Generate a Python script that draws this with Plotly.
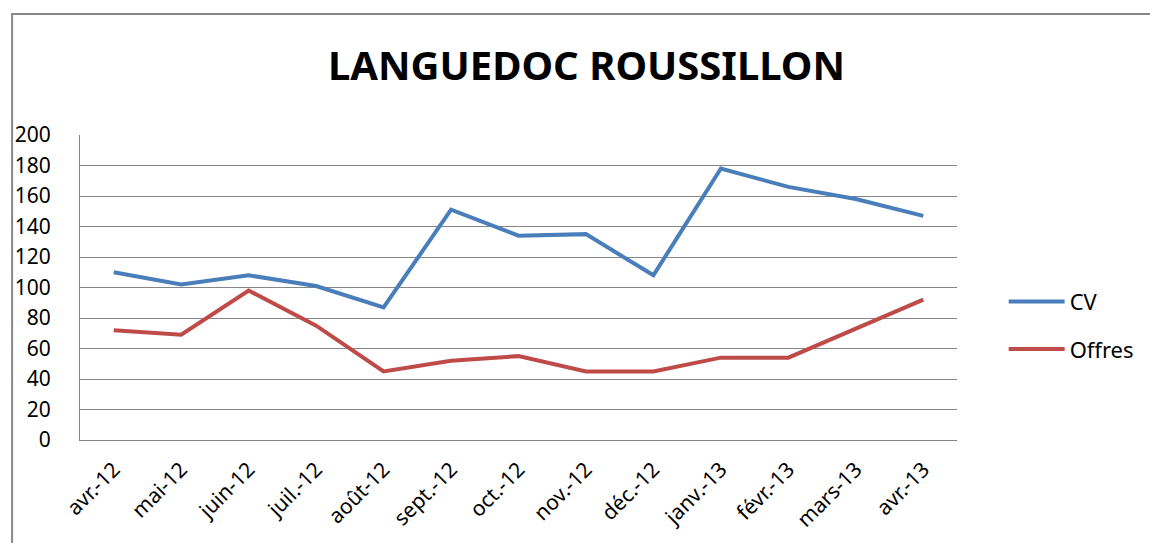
import plotly.graph_objects as go

months = ["avr.-12", "mai-12", "juin-12", "juil.-12", "août-12", "sept.-12", "oct.-12",
          "nov.-12", "déc.-12", "janv.-13", "févr.-13", "mars-13", "avr.-13"]
cv = [110, 102, 108, 101, 87, 151, 134, 135, 108, 178, 166, 158, 147]
offres = [72, 69, 98, 75, 45, 52, 55, 45, 45, 54, 54, 73, 92]

font = "Noto Sans"
grid = "#868686"

fig = go.Figure()
fig.add_trace(go.Scatter(x=months, y=cv, name="CV", mode="lines", legendgroup="a",
                         line=dict(color="#4A7EBB", width=4)))
fig.add_trace(go.Scatter(x=months, y=offres, name="Offres", mode="lines", legendgroup="b",
                         line=dict(color="#BE4B48", width=4)))

fig.update_layout(
    width=1150, height=543,
    margin=dict(l=80, r=192, t=135, b=103),
    paper_bgcolor="white", plot_bgcolor="white",
    font=dict(family=font, size=20, color="#000000"),
    title=dict(text="<b>LANGUEDOC ROUSSILLON</b>", x=0.51, xanchor="center",
               y=0.878, yanchor="middle", font=dict(family=font, size=40)),
    legend=dict(x=1.052, y=0.375, xanchor="left", yanchor="middle",
                itemwidth=56, tracegroupgap=16, font=dict(size=22)),
    showlegend=True,
)
fig.update_xaxes(showgrid=False, showline=True, linecolor=grid, linewidth=1,
                 range=[-0.5, 12.5], tickangle=-45, tickfont=dict(size=21), ticks="",
                 ticklabelstandoff=8, automargin=False)
fig.update_yaxes(range=[0, 200], dtick=20, showgrid=True, gridcolor=grid, gridwidth=1,
                 showline=True, linecolor=grid, linewidth=1, zeroline=False,
                 ticklabelstandoff=24, tickfont=dict(size=21), automargin=False)

# outer chart border (cropped at right and bottom)
fig.add_shape(type="rect", xref="paper", yref="paper",
              x0=-68 / 878, x1=1.3, y0=-0.5, y1=1 + 121 / 305,
              line=dict(color="#888888", width=2), layer="below")

fig.write_html("out.html", config={"displayModeBar": False},
               post_script="document.body.style.margin='0';")
